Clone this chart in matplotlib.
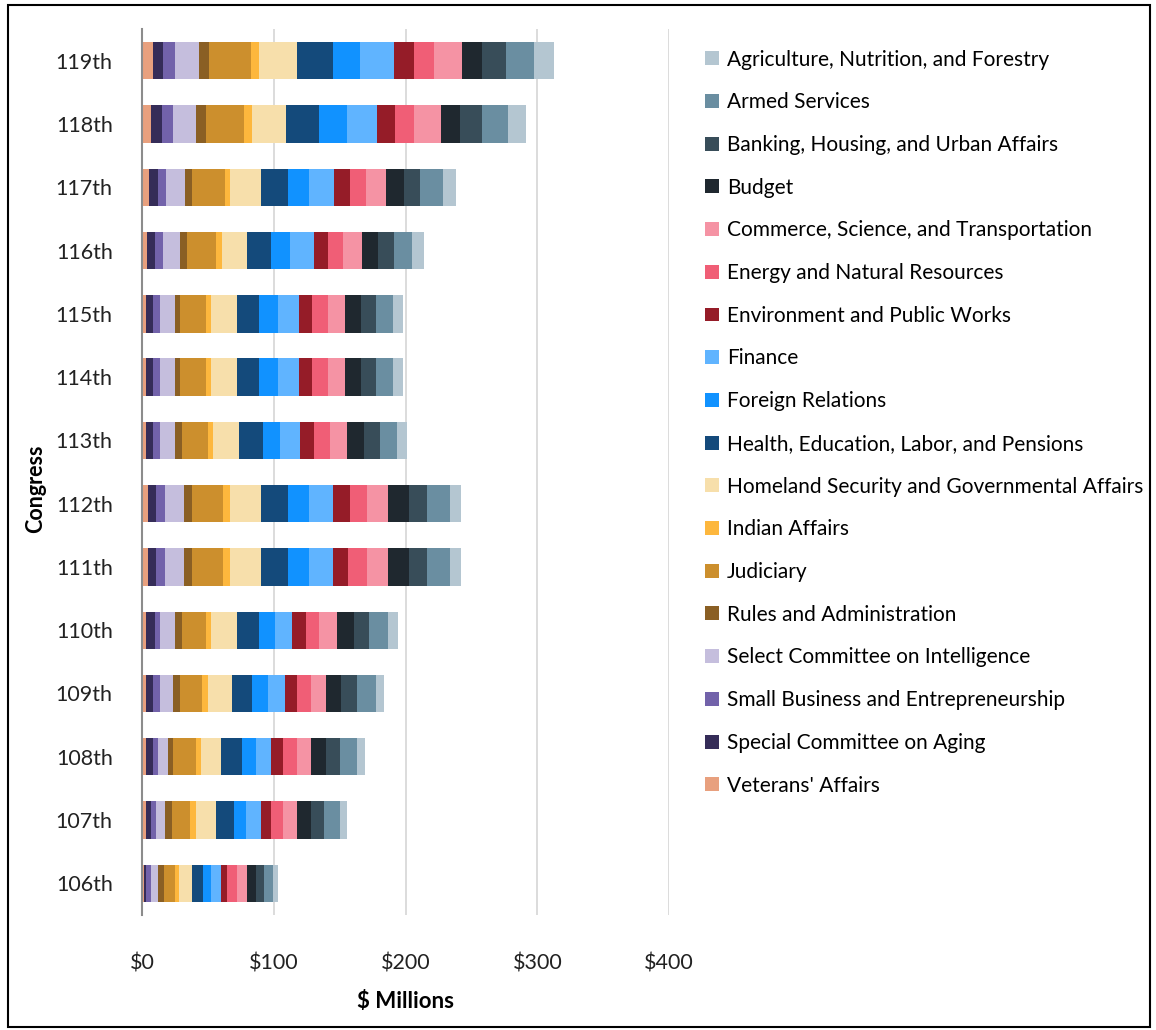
import numpy as np
import matplotlib.pyplot as plt
from matplotlib.patches import Rectangle

plt.rcParams["font.family"] = ["Lato", "DejaVu Sans"]

congresses = ["106th", "107th", "108th", "109th", "110th", "111th", "112th",
              "113th", "114th", "115th", "116th", "117th", "118th", "119th"]

committees = ["Veterans' Affairs", "Special Committee on Aging",
              "Small Business and Entrepreneurship", "Select Committee on Intelligence",
              "Rules and Administration", "Judiciary", "Indian Affairs",
              "Homeland Security and Governmental Affairs",
              "Health, Education, Labor, and Pensions", "Foreign Relations", "Finance",
              "Environment and Public Works", "Energy and Natural Resources",
              "Commerce, Science, and Transportation", "Budget",
              "Banking, Housing, and Urban Affairs", "Armed Services",
              "Agriculture, Nutrition, and Forestry"]

colors = ["#E8A07E", "#352C58", "#7262AA", "#C5BEDD", "#8A5F24", "#CC8F2D", "#FDB73D",
          "#F7DFAB", "#144A7B", "#1192FF", "#60B4FF", "#951C28", "#F05E76", "#F593A4",
          "#1F282F", "#384D59", "#6A8EA1", "#B4C6D1"]

# $ millions, one list per committee, 106th -> 119th
veterans     = [1.5, 3.0, 3.0, 3.0, 3.0, 4.3, 4.3, 3.0, 3.0, 3.0, 4.1, 5.6, 6.8, 8.1]
aging        = [1.3, 3.8, 5.1, 5.1, 6.6, 6.6, 6.6, 5.1, 5.1, 5.1, 5.5, 6.6, 8.1, 8.1]
small_biz    = [4.0, 4.1, 4.1, 5.3, 3.8, 6.6, 6.6, 5.3, 5.3, 5.3, 6.4, 6.3, 8.9, 8.9]
intelligence = [5.4, 6.3, 7.8, 10.4, 11.7, 14.2, 14.2, 11.7, 11.7, 11.7, 12.9, 14.5, 17.0, 18.2]
rules        = [4.3, 5.3, 3.8, 5.4, 5.1, 6.6, 6.6, 5.1, 4.1, 4.1, 5.3, 5.3, 7.9, 7.9]
judiciary    = [8.6, 14.3, 17.0, 16.7, 18.5, 23.3, 23.3, 19.8, 19.5, 19.5, 22.3, 24.6, 28.6, 31.2]
indian       = [3.0, 4.0, 3.8, 4.0, 3.8, 5.3, 5.3, 4.0, 4.0, 4.0, 4.1, 3.8, 6.3, 6.6]
homeland     = [10.2, 15.7, 15.7, 18.3, 19.5, 23.1, 23.1, 19.5, 19.3, 19.3, 19.2, 23.3, 25.9, 28.4]
help_        = [8.3, 13.0, 15.5, 15.5, 17.0, 21.0, 21.0, 18.0, 17.0, 17.0, 18.3, 21.0, 25.1, 27.6]
foreign      = [5.9, 9.1, 10.4, 11.9, 11.6, 15.8, 15.8, 13.2, 14.2, 14.2, 14.4, 15.8, 20.8, 20.8]
finance      = [7.6, 11.6, 11.9, 12.9, 13.0, 18.2, 18.2, 15.5, 16.0, 16.0, 18.0, 19.2, 23.3, 25.8]
environment  = [4.5, 7.9, 9.1, 9.1, 10.6, 11.7, 13.0, 10.4, 10.1, 10.1, 10.7, 12.2, 13.2, 14.5]
energy       = [7.4, 9.1, 10.4, 10.4, 10.4, 14.4, 13.1, 11.9, 12.0, 12.0, 11.4, 11.6, 14.4, 15.4]
commerce     = [7.6, 10.4, 10.4, 11.7, 13.2, 15.7, 15.7, 13.2, 12.9, 12.9, 14.4, 15.5, 20.5, 21.1]
budget       = [6.8, 10.4, 11.7, 11.6, 12.9, 15.5, 15.5, 12.9, 11.7, 11.7, 11.9, 13.2, 14.4, 15.7]
banking      = [6.1, 10.3, 10.4, 11.9, 11.7, 14.2, 14.2, 11.9, 11.9, 11.9, 12.0, 12.7, 17.0, 18.3]
armed        = [7.3, 11.8, 13.1, 14.2, 14.2, 17.0, 17.0, 12.7, 12.9, 12.9, 14.2, 16.9, 19.5, 20.7]
agriculture  = [3.4, 5.3, 6.4, 6.6, 7.8, 8.8, 8.8, 7.6, 7.5, 7.5, 8.6, 10.4, 14.0, 15.5]

series = [veterans, aging, small_biz, intelligence, rules, judiciary, indian, homeland,
          help_, foreign, finance, environment, energy, commerce, budget, banking,
          armed, agriculture]

fig = plt.figure(figsize=(11.56, 10.3), dpi=100)
ax = fig.add_axes([0.1228, 0.1117, 0.456, 0.86])

y = np.arange(len(congresses))
left = np.zeros(len(congresses))
bars = []
for name, vals, c in zip(committees, series, colors):
    b = ax.barh(y, vals, left=left, height=0.59, color=c, label=name, zorder=3)
    bars.append(b)
    left += np.array(vals)

ax.set_xlim(0, 400)
ax.set_ylim(-0.5, len(congresses) - 0.5)
ax.set_yticks(y)
ax.set_yticklabels(congresses)
ax.set_xticks([0, 100, 200, 300, 400])
ax.set_xticklabels(["$0", "$100", "$200", "$300", "$400"])
ax.tick_params(axis="x", length=0, pad=28, labelsize=15.5, labelcolor="#222222")
ax.tick_params(axis="y", length=0, pad=21, labelsize=15.5, labelcolor="#222222")
ax.grid(axis="x", color="#d9d9d9", linewidth=1.3, zorder=0)
for s in ["top", "right", "bottom"]:
    ax.spines[s].set_visible(False)
ax.spines["left"].set_color("#8c8c8c")
ax.spines["left"].set_linewidth(1.5)
ax.spines["left"].set_zorder(4)

ax.set_xlabel("$ Millions", fontsize=16, fontweight="bold", labelpad=12)
ax.set_ylabel("Congress", fontsize=15.5, fontweight="bold")
ax.yaxis.set_label_coords(-0.182, 0.481)

fig.legend(bars[::-1], committees[::-1], loc="upper left",
           bbox_to_anchor=(0.603, 0.960), frameon=False, fontsize=15,
           handlelength=0.65, handleheight=0.65, handletextpad=0.4,
           labelspacing=1.09, borderaxespad=0)

fig.patches.append(Rectangle((8 / 1156, 3 / 1030), 1142 / 1156, 1022 / 1030,
                             transform=fig.transFigure, fill=False,
                             edgecolor="black", linewidth=1.5))

fig.savefig("out.png", dpi=100)
